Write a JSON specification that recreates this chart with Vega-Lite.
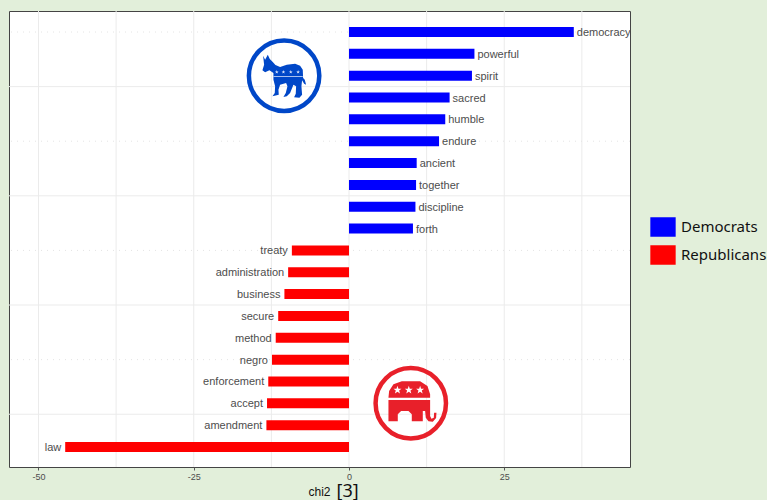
{
"$schema":"https://vega.github.io/schema/vega-lite/v6.json",
"width":621,"height":456,
"autosize":"none",
"padding":{"left":9,"top":11,"right":137,"bottom":33},
"background":"#e2efda",
"view":{"fill":"#ffffff","stroke":"#444444","strokeWidth":1},
"title":{"text":"[3]","orient":"bottom","anchor":"start","dx":328,"offset":-14,"fontSize":18,"fontWeight":"normal","font":"Noto Sans","color":"#111111"},
"datasets":{
"bars":[
{"word":"democracy","chi2":36.2,"party":"Democrats"},
{"word":"powerful","chi2":20.2,"party":"Democrats"},
{"word":"spirit","chi2":19.8,"party":"Democrats"},
{"word":"sacred","chi2":16.2,"party":"Democrats"},
{"word":"humble","chi2":15.5,"party":"Democrats"},
{"word":"endure","chi2":14.5,"party":"Democrats"},
{"word":"ancient","chi2":10.9,"party":"Democrats"},
{"word":"together","chi2":10.8,"party":"Democrats"},
{"word":"discipline","chi2":10.7,"party":"Democrats"},
{"word":"forth","chi2":10.3,"party":"Democrats"},
{"word":"treaty","chi2":-9.2,"party":"Republicans"},
{"word":"administration","chi2":-9.8,"party":"Republicans"},
{"word":"business","chi2":-10.4,"party":"Republicans"},
{"word":"secure","chi2":-11.4,"party":"Republicans"},
{"word":"method","chi2":-11.8,"party":"Republicans"},
{"word":"negro","chi2":-12.4,"party":"Republicans"},
{"word":"enforcement","chi2":-13.0,"party":"Republicans"},
{"word":"accept","chi2":-13.2,"party":"Republicans"},
{"word":"amendment","chi2":-13.3,"party":"Republicans"},
{"word":"law","chi2":-45.7,"party":"Republicans"}
],
"vgrid":[{"v":-50},{"v":-37.5},{"v":-25},{"v":-12.5},{"v":0},{"v":12.5},{"v":25},{"v":37.5}],
"hmajor":[{"word":"spirit"},{"word":"together"},{"word":"business"},{"word":"accept"}],
"hminor":[{"word":"democracy"},{"word":"endure"},{"word":"treaty"},{"word":"negro"}],
"donkey":[{"chi2":-10.45,"word":"spirit"}],
"elephant":[{"chi2":9.95,"word":"accept"}]
},
"config":{"font":"Liberation Sans"},
"layer":[
{"data":{"name":"vgrid"},"mark":{"type":"rule","color":"#ebebeb","strokeWidth":1},
 "encoding":{"x":{"field":"v","type":"quantitative","scale":{"domain":[-54.75,45.25],"nice":false,"zero":false},"axis":{"values":[-50,-25,0,25],"labelExpr":"''+datum.value","title":"chi2","titleFontWeight":"normal","titleFontSize":12,"titleColor":"#111111","titleX":310,"titleY":19,"titleAnchor":"middle","grid":false,"domain":false,"tickColor":"#555555","tickSize":3,"labelFontSize":9,"labelColor":"#4d4d4d","labelPadding":2}}}},
{"data":{"name":"hmajor"},"mark":{"type":"rule","color":"#ebebeb","strokeWidth":1},
 "encoding":{"y":{"field":"word","type":"nominal","bandPosition":1.592,"axis":null,"sort":null}}},
{"data":{"name":"hminor"},"mark":{"type":"rule","color":"#e4e4e4","strokeWidth":1,"strokeDash":[1,5]},
 "encoding":{"y":{"field":"word","type":"nominal","axis":null,"sort":null}}},
{"data":{"name":"bars"},"mark":{"type":"bar","orient":"horizontal"},
 "encoding":{
  "y":{"field":"word","type":"nominal","axis":null,"sort":null,"scale":{"domain":["democracy","powerful","spirit","sacred","humble","endure","ancient","together","discipline","forth","treaty","administration","business","secure","method","negro","enforcement","accept","amendment","law"],"range":[1,456],"paddingInner":0.542,"paddingOuter":0.687}},
  "x":{"field":"chi2","type":"quantitative"},
  "color":{"field":"party","type":"nominal","scale":{"domain":["Democrats","Republicans"],"range":["#0000ff","#ff0000"]},
   "legend":{"title":null,"orient":"none","legendX":644,"legendY":206,"symbolType":"M-1.3 -1H1.3V1H-1.3Z","symbolSize":380,"symbolOpacity":1,"symbolStrokeWidth":0,"labelFont":"Noto Sans","labelFontSize":15,"labelColor":"#111111","rowPadding":8,"labelOffset":8}}
 }},
{"data":{"name":"bars"},"transform":[{"filter":"datum.chi2>0"}],"mark":{"type":"text","align":"left","dx":3,"dy":1,"fontSize":11,"color":"#4d4d4d"},
 "encoding":{"y":{"field":"word","type":"nominal","axis":null,"sort":null},"x":{"field":"chi2","type":"quantitative"},"text":{"field":"word"}}},
{"data":{"name":"bars"},"transform":[{"filter":"datum.chi2<0"}],"mark":{"type":"text","align":"right","dx":-4,"dy":1,"fontSize":11,"color":"#4d4d4d"},
 "encoding":{"y":{"field":"word","type":"nominal","axis":null,"sort":null},"x":{"field":"chi2","type":"quantitative"},"text":{"field":"word"}}},
{"data":{"name":"donkey"},"mark":{"type":"point","shape":"circle","filled":false,"stroke":"#0047c8","strokeWidth":4.5,"size":4956,"opacity":1},
 "encoding":{"x":{"field":"chi2","type":"quantitative"},"y":{"field":"word","type":"nominal","axis":null,"sort":null}}},
{"data":{"name":"donkey"},"mark":{"type":"point","filled":true,"fill":"#0047c8","size":4444,"opacity":1,"shape":"M-.63 -.60L-.57 -.48L-.49 -.63L-.43 -.50L-.34 -.41L-.26 -.32L-.12 -.26L.08 -.33L.33 -.36L.48 -.30L.56 -.18L.57 .07L.62 .12L.66 .27L.60 .24L.54 .14L.52 .32L.54 .57L.46 .66L.30 .65L.35 .54L.36 .32L.28 .27L.18 .52L.08 .62L-.02 .64L.05 .52L.10 .32L.06 .22L-.12 .27L-.17 .42L-.16 .57L-.35 .62L-.28 .52L-.27 .32L-.32 .12L-.32 -.08L-.44 -.16L-.57 -.10L-.65 -.16L-.60 -.33Z"},
 "encoding":{"x":{"field":"chi2","type":"quantitative"},"y":{"field":"word","type":"nominal","axis":null,"sort":null}}},
{"data":{"name":"donkey"},"mark":{"type":"point","filled":true,"fill":"#dfe8fb","size":4444,"opacity":1,"shape":"M-.32 .01H.56V.03H-.32ZM-.22 -.17l.014 .041 .041 0 -.032 .025 .012 .041 -.035 -.025 -.035 .025 .012 -.041 -.032 -.025 .041 0zM-.02 -.17l.014 .041 .041 0 -.032 .025 .012 .041 -.035 -.025 -.035 .025 .012 -.041 -.032 -.025 .041 0zM.20 -.17l.014 .041 .041 0 -.032 .025 .012 .041 -.035 -.025 -.035 .025 .012 -.041 -.032 -.025 .041 0zM.42 -.17l.014 .041 .041 0 -.032 .025 .012 .041 -.035 -.025 -.035 .025 .012 -.041 -.032 -.025 .041 0z"},
 "encoding":{"x":{"field":"chi2","type":"quantitative"},"y":{"field":"word","type":"nominal","axis":null,"sort":null}}},
{"data":{"name":"elephant"},"mark":{"type":"point","shape":"circle","filled":false,"stroke":"#e8202a","strokeWidth":4.5,"size":4956,"opacity":1},
 "encoding":{"x":{"field":"chi2","type":"quantitative"},"y":{"field":"word","type":"nominal","axis":null,"sort":null}}},
{"data":{"name":"elephant"},"mark":{"type":"point","filled":true,"fill":"#e8202a","size":4444,"opacity":1,"shape":"M-.67 -.10L.58 -.10L.58 .38L.62 .46L.69 .43L.70 .28L.77 .28L.76 .44L.66 .55L.53 .54L.45 .43L.43 .23L.36 .23L.36 .54L.03 .54L.03 .33L-.07 .23L-.29 .23L-.39 .33L-.39 .54L-.67 .54ZM-.67 -.17L-.65 -.37L-.52 -.57L-.27 -.66L.28 -.66L.50 -.52L.58 -.27L.58 -.17Z"},
 "encoding":{"x":{"field":"chi2","type":"quantitative"},"y":{"field":"word","type":"nominal","axis":null,"sort":null}}},
{"data":{"name":"elephant"},"mark":{"type":"point","filled":true,"fill":"#ffffff","size":4444,"opacity":1,"shape":"M-.40 -.53l.03 .09 .09 0 -.07 .055 .026 .09 -.076 -.055 -.076 .055 .026 -.09 -.07 -.055 .09 0zM-.06 -.53l.03 .09 .09 0 -.07 .055 .026 .09 -.076 -.055 -.076 .055 .026 -.09 -.07 -.055 .09 0zM.28 -.53l.03 .09 .09 0 -.07 .055 .026 .09 -.076 -.055 -.076 .055 .026 -.09 -.07 -.055 .09 0z"},
 "encoding":{"x":{"field":"chi2","type":"quantitative"},"y":{"field":"word","type":"nominal","axis":null,"sort":null}}}
]
}
